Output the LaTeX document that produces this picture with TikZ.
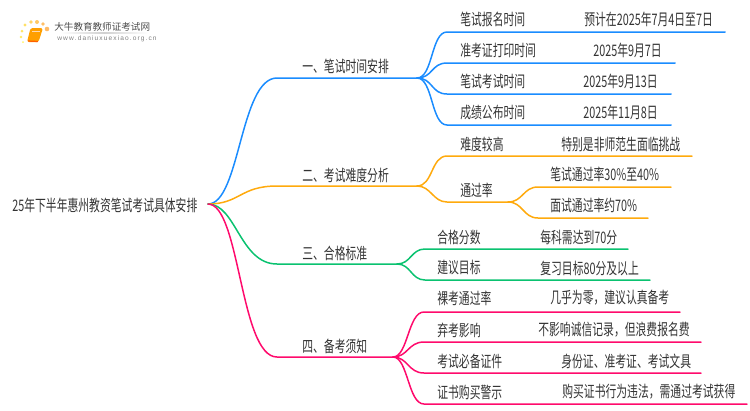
\documentclass[tikz,border=0pt]{standalone}
\usepackage{fontspec}
\setmainfont[FakeStretch=0.68]{Noto Sans CJK SC}
\newfontfamily\logofont{Noto Sans CJK SC}
\newfontfamily\urlfont{Liberation Sans}
\usetikzlibrary{positioning}
\definecolor{bluebr}{HTML}{1A8CFF}
\definecolor{orangebr}{HTML}{FFAA0D}
\definecolor{greenbr}{HTML}{0AC270}
\definecolor{pinkbr}{HTML}{FF0A6C}
\definecolor{inktext}{HTML}{333333}
\tikzset{
    txt/.style={anchor=west, inner sep=0pt, text=inktext, font=\fontsize{9.05}{11}\selectfont},
    br/.style={line width=0.85pt, line cap=round}
}
\begin{document}
\begin{tikzpicture}[x=0.02cm, y=-0.02cm]
    \useasboundingbox (0,0) rectangle (750,410);
    % logo
    \foreach \px/\py/\pr/\pc in {25/25/1.6/40, 31/22/1.9/55, 37/22/2/70, 43/24/1.9/85, 47/29/2.3/90, 22/31/1.5/35, 21/37/1.3/25, 23/42/1/15}
        \fill[orange!\pc!yellow!60!white] (\px,\py) circle(\pr);
    \fill[orange!75!yellow, rounded corners=1pt] (30.5,28) -- (43,28) -- (38.5,42) -- (27,42) -- cycle;
    \draw[orange!30!white, line width=0.4pt] (32,31) -- (40,31);
    \draw[orange!75!red, line width=0.7pt] (28,41) -- (38,41.5);
    \node (logoname) [anchor=west, inner sep=0pt, text=black!70, font=\logofont\fontsize{5.45}{7}\selectfont] at (54,27) {大牛教育教师证考试网};
    \node (logourl) [anchor=west, inner sep=0pt, text=black!50, font=\urlfont\fontsize{3.75}{5}\selectfont] at (57,39) {w\,w\,w\,.\,d\,a\,n\,i\,u\,x\,u\,e\,x\,i\,a\,o\,.\,o\,r\,g\,.\,c\,n};
    \shade[left color=white, right color=white, middle color=black!18] (60,32.6) rectangle (148,33.4);

    % root and first level
    \node[txt] (root) at (12,205) {25年下半年惠州教资笔试考试具体安排};
    \coordinate (start) at (208,204);
    \coordinate (one) at (277,78);
    \coordinate (oneend) at (417,78);
    \coordinate (two) at (277,186);
    \coordinate (twoend) at (417,186);
    \coordinate (three) at (277,264);
    \coordinate (threeend) at (397,264);
    \coordinate (four) at (277,357);
    \coordinate (fourend) at (393,357);
    \draw[br, bluebr] (start) .. controls (240,204) and (240,78) .. (one) -- (oneend);
    \draw[br, orangebr] (start) .. controls (240,204) and (240,186) .. (two) -- (twoend);
    \draw[br, greenbr] (start) .. controls (236,204) and (240,264) .. (three) -- (threeend);
    \draw[br, pinkbr] (start) .. controls (240,204) and (240,357) .. (four) -- (fourend);
    \node[txt] (onetxt) at (302,66) {一、笔试时间安排};
    \node[txt] (twotxt) at (302,175) {二、考试难度分析};
    \node[txt] (threetxt) at (302,253) {三、合格标准};
    \node[txt] (fourtxt) at (302,346) {四、备考须知};

    % blue rows
    \foreach \i/\ly/\lx/\ty/\name/\vx/\val in {
        1/32/725/19/笔试报名时间/584/预计在2025年7月4日至7日,
        2/63/675/50/准考证打印时间/593/2025年9月7日,
        3/94/671/81/笔试考试时间/583/2025年9月13日,
        4/125/671/112/成绩公布时间/583/2025年11月8日} {
        \coordinate (bl\i) at (447,\ly);
        \coordinate (ble\i) at (\lx,\ly);
        \draw[br, bluebr] (oneend) .. controls (433,78) and (431,\ly) .. (bl\i) -- (ble\i);
        \node[txt] (blname\i) at (460,\ty) {\name};
        \node[txt] (blval\i) at (\vx,\ty) {\val};
    }

    % orange rows
    \coordinate (or1) at (447,156);
    \coordinate (ore1) at (692,156);
    \coordinate (or2) at (447,202);
    \coordinate (ore2) at (508,202);
    \draw[br, orangebr] (twoend) .. controls (433,186) and (431,156) .. (or1) -- (ore1);
    \draw[br, orangebr] (twoend) .. controls (431,186) and (433,202) .. (or2) -- (ore2);
    \node[txt] (orname1) at (460,144) {难度较高};
    \node[txt] (orval1) at (561,144) {特别是非师范生面临挑战};
    \node[txt] (orname2) at (460,190) {通过率};
    \coordinate (orsub1) at (538,187);
    \coordinate (orsube1) at (671,187);
    \coordinate (orsub2) at (538,218);
    \coordinate (orsube2) at (648,218);
    \draw[br, orangebr] (ore2) .. controls (523,202) and (523,187) .. (orsub1) -- (orsube1);
    \draw[br, orangebr] (ore2) .. controls (523,202) and (523,218) .. (orsub2) -- (orsube2);
    \node[txt] (orsubtxt1) at (550,174) {笔试通过率30\%至40\%};
    \node[txt] (orsubtxt2) at (550,205) {面试通过率约70\%};

    % green rows
    \foreach \i/\ly/\lx/\ty/\name/\vx/\val in {
        1/249/628/237/合格分数/540/每科需达到70分,
        2/280/650/268/建议目标/540/复习目标80分及以上} {
        \coordinate (gr\i) at (425,\ly);
        \coordinate (gre\i) at (\lx,\ly);
        \draw[br, greenbr] (threeend) .. controls (411,264) and (411,\ly) .. (gr\i) -- (gre\i);
        \node[txt] (grname\i) at (437,\ty) {\name};
        \node[txt] (grval\i) at (\vx,\ty) {\val};
    }

    % pink rows
    \foreach \i/\ly/\lx/\ty/\name/\vx/\val in {
        1/312/680/298/裸考通过率/550/几乎为零，建议认真备考,
        2/342/701/330/弃考影响/538/不影响诚信记录，但浪费报名费,
        3/373/701/361/考试必备证件/561/身份证、准考证、考试文具,
        4/404/747/392/证书购买警示/562/购买证书行为违法，需通过考试获得} {
        \coordinate (pk\i) at (424,\ly);
        \coordinate (pke\i) at (\lx,\ly);
        \draw[br, pinkbr] (fourend) .. controls (408,357) and (408,\ly) .. (pk\i) -- (pke\i);
        \node[txt] (pkname\i) at (437,\ty) {\name};
        \node[txt] (pkval\i) at (\vx,\ty) {\val};
    }
\end{tikzpicture}
\end{document}
